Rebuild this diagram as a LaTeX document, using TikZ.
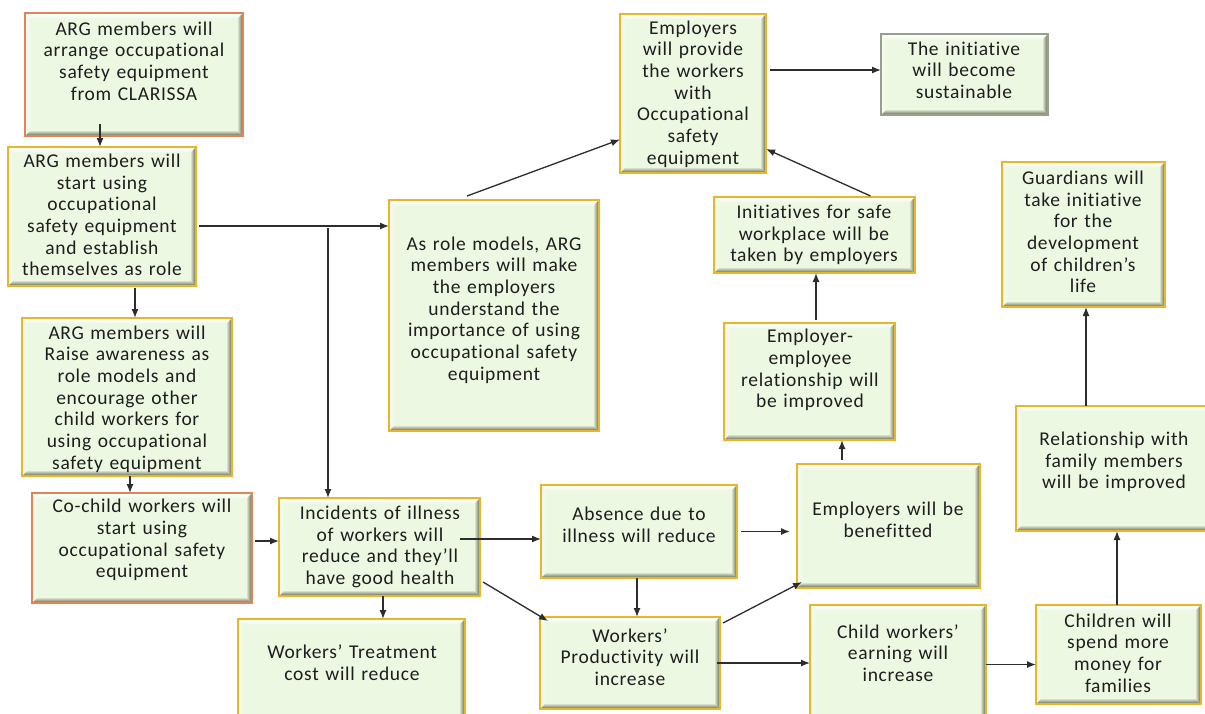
\documentclass[tikz,border=0pt]{standalone}
\usepackage{fontspec}
\setmainfont{Carlito}[LetterSpace=3.5,WordSpace=1.3,Ligatures=NoCommon]
\usetikzlibrary{arrows.meta}
\definecolor{boxfill}{RGB}{237,248,227}
\definecolor{bevdark}{RGB}{96,98,72}
\definecolor{gold}{RGB}{232,182,40}
\definecolor{orng}{RGB}{226,132,86}
\definecolor{grayb}{RGB}{150,160,140}
\definecolor{txtc}{RGB}{30,30,30}
\definecolor{arrc}{RGB}{45,45,45}
\newcommand\mkbox[6][]{\node[box,#1,minimum width={#5-#3},minimum height={#6-#4}] (#2) at ({(#3+#5)/2},{-(#4+#6)/2}) {};}
\tikzset{
  box/.style={rectangle, draw=gold, line width=1.5pt, fill=boxfill, inner sep=0pt, outer sep=0pt,
    path picture={
      \path (path picture bounding box.north west) coordinate (qNW)
            (path picture bounding box.north east) coordinate (qNE)
            (path picture bounding box.south east) coordinate (qSE)
            (path picture bounding box.south west) coordinate (qSW);
      \shade[top color=white,bottom color=boxfill] (qNW) -- (qNE) -- ([shift={(-6,-6)}]qNE) -- ([shift={(6,-6)}]qNW) -- cycle;
      \shade[left color=white!50!boxfill,right color=boxfill] (qNW) -- ([shift={(6,-6)}]qNW) -- ([shift={(6,6)}]qSW) -- (qSW) -- cycle;
      \shade[left color=boxfill,right color=bevdark] ([shift={(-6,-6)}]qNE) -- (qNE) -- (qSE) -- ([shift={(-6,6)}]qSE) -- cycle;
      \shade[top color=boxfill,bottom color=bevdark] ([shift={(6,6)}]qSW) -- ([shift={(-6,6)}]qSE) -- (qSE) -- (qSW) -- cycle;
    }},
  obox/.style={draw=orng},
  gbox/.style={draw=grayb},
  txt/.style={align=center, inner sep=0pt, text=txtc, font=\fontsize{19.5}{21.7}\selectfont},
  arr/.style={draw=arrc, line width=1.3pt, -{Latex[length=9pt,width=7pt]}}
}
\begin{document}
\begin{tikzpicture}[x=1pt,y=1pt]
\useasboundingbox (0,0) rectangle (1205,-713);
\clip (0,0) rectangle (1205,-713);
\fill[white] (0,0) rectangle (1205,-713);
% boxes
\mkbox[obox]{A1}{25}{13}{243}{136}
\mkbox{A2}{8}{147}{196}{286}
\mkbox{A3}{22}{318}{232}{476}
\mkbox[obox]{A4}{32}{493}{252}{603}
\mkbox{Inc}{279}{498}{480}{596}
\mkbox{Treat}{238}{619}{465}{724}
\mkbox{Role}{389}{200}{599}{431}
\mkbox{Emp}{620}{14}{766}{173}
\mkbox[gbox]{Sust}{881}{34}{1048}{115}
\mkbox{Init}{714}{197}{915}{273}
\mkbox{EE}{724}{323}{895}{440}
\mkbox{Ben}{797}{464}{980}{588}
\mkbox{Abs}{541}{485}{737}{578}
\mkbox{Prod}{540}{617}{720}{709}
\mkbox{Earn}{810}{605}{986}{724}
\mkbox{Spend}{1036}{605}{1201}{704}
\mkbox{Rel}{1016}{406}{1216}{531}
\mkbox{Guard}{1002}{162}{1165}{307}
% texts
\node[txt] (A1t) at (134,-61) {ARG members will\\arrange occupational\\safety equipment\\from CLARISSA};
\node[txt] (A2t) at (102,-215) {ARG members will\\start using\\occupational\\safety equipment\\and establish\\themselves as role};
\node[txt] (A3t) at (127,-399) {ARG members will\\Raise awareness as\\role models and\\encourage other\\child workers for\\using occupational\\safety equipment};
\node[txt] (A4t) at (142,-540) {Co-child workers will\\start using\\occupational safety\\equipment};
\node[txt] (Inct) at (380,-547) {Incidents of illness\\of workers will\\reduce and they’ll\\have good health};
\node[txt] (Treatt) at (352,-663) {Workers’ Treatment\\cost will reduce};
\node[txt] (Rolet) at (494,-310) {As role models, ARG\\members will make\\the employers\\understand the\\importance of using\\occupational safety\\equipment};
\node[txt] (Empt) at (693,-94) {Employers\\will provide\\the workers\\with\\Occupational\\safety\\equipment};
\node[txt] (Sustt) at (964,-70) {The initiative\\will become\\sustainable};
\node[txt] (Initt) at (814,-235) {Initiatives for safe\\workplace will be\\taken by employers};
\node[txt] (EEt) at (810,-370) {Employer-\\employee\\relationship will\\be improved};
\node[txt] (Bent) at (888,-520) {Employers will be\\benefitted};
\node[txt] (Abst) at (639,-525) {Absence due to\\illness will reduce};
\node[txt] (Prodt) at (630,-657) {Workers’\\Productivity will\\increase};
\node[txt] (Earnt) at (898,-653) {Child workers’\\earning will\\increase};
\node[txt] (Spendt) at (1118,-653) {Children will\\spend more\\money for\\families};
\node[txt] (Relt) at (1114,-462) {Relationship with\\family members\\will be improved};
\node[txt] (Guardt) at (1083,-232) {Guardians will\\take initiative\\for the\\development\\of children’s\\life};
% connectors
\draw[arr] ([xshift=-34,yshift=12]A1.south) -- ([xshift=-34]A1.south |- A2.north);
\draw[arr] ([xshift=33,yshift=-2]A2.south) -- ([xshift=33]A2.south |- A3.north);
\draw[arr] ([xshift=3]A3.south) -- ([xshift=3]A3.south |- A4.north);
\draw[arr] ([xshift=3,yshift=-9.5]A2.east) -- ([yshift=-9.5]A2.east -| Role.west);
\coordinate (br) at (328,-228);
\draw[arr] (br) -- (br |- Inc.north);
\draw[arr] ([xshift=3,yshift=7]A4.east) -- ([yshift=7]A4.east -| Inc.west);
\draw[arr] ([xshift=-27,yshift=4]Role.north) -- ([yshift=-46]Emp.west);
\draw[arr] ([xshift=4,yshift=23.5]Emp.east) -- ([yshift=23.5]Emp.east -| Sust.west);
\draw[arr] ([xshift=56,yshift=1]Init.north) -- ([yshift=-55.5]Emp.east);
\draw[arr] ([xshift=6.5,yshift=3]EE.north) -- ([xshift=6.5]EE.north |- Init.south);
\draw[arr] ([xshift=-46.5,yshift=4]Ben.north) -- ([xshift=-46.5]Ben.north |- EE.south);
\draw[arr] ([xshift=-20,yshift=8]Inc.east) -- ([yshift=8]Inc.east -| Abs.west);
\draw[arr] ([xshift=3,yshift=14]Inc.south east) -- ([xshift=8,yshift=-4]Prod.north west);
\draw[arr] ([xshift=3.5]Inc.south) -- ([xshift=3.5]Inc.south |- Treat.north);
\draw[arr] ([xshift=-2]Abs.south) -- ([xshift=-2]Abs.south |- Prod.north);
\draw[arr] ([xshift=4]Abs.east) -- ([xshift=-7]Ben.west |- Abs.east);
\draw[arr] ([xshift=3,yshift=-6]Prod.north east) -- ([xshift=5,yshift=6]Ben.south west);
\draw[arr] ([xshift=-3]Prod.east) -- (Prod.east -| Earn.west);
\draw[arr] (Earn.east) -- (Earn.east -| Spend.west);
\draw[arr] ([xshift=-1.5]Spend.north) -- ([xshift=-1.5]Spend.north |- Rel.south);
\draw[arr] ([xshift=-30]Rel.north) -- ([xshift=-30]Rel.north |- Guard.south);
\end{tikzpicture}
\end{document}
